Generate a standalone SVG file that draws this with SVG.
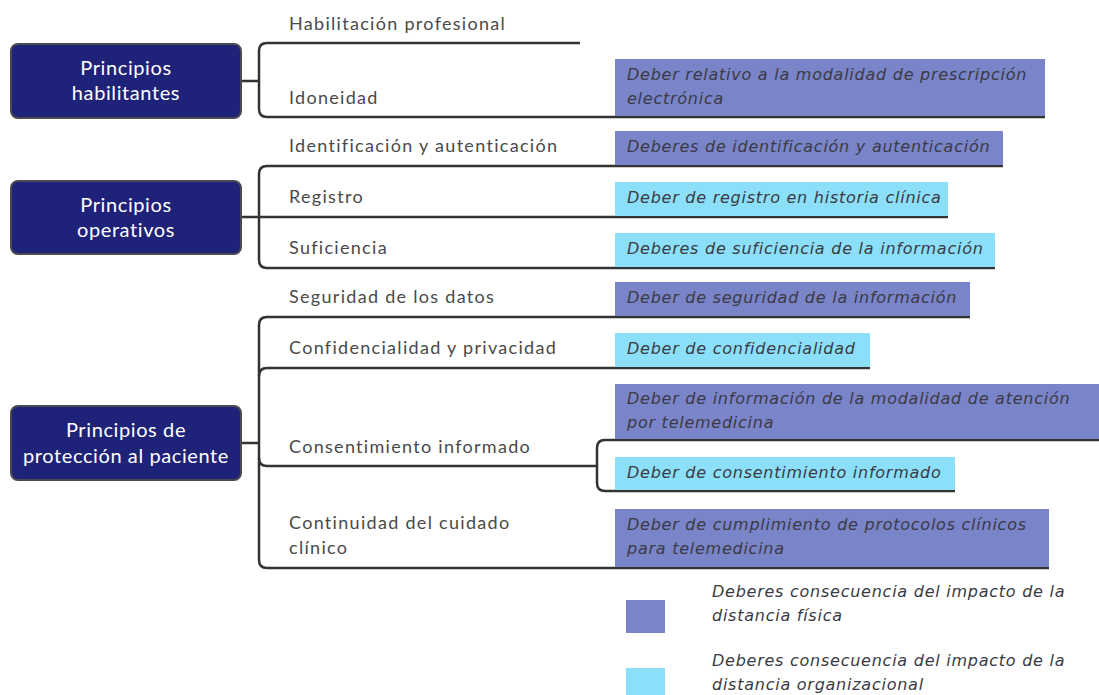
<svg xmlns="http://www.w3.org/2000/svg" width="1099" height="695" viewBox="0 0 1099 695">
  <style>
    .node rect { fill: #1e2278; stroke: #4a4a52; stroke-width: 2; }
    .node text { fill: #ffffff; font-family: Lato, "Noto Sans", sans-serif; font-size: 20px; letter-spacing: 0.6px; text-anchor: middle; }
    .label { fill: #4a4a4a; font-family: Lato, "Noto Sans", sans-serif; font-size: 18px; letter-spacing: 1.3px; }
    .duty { fill: #3a3a44; font-family: "DejaVu Sans", "Noto Sans", sans-serif; font-size: 16px; font-style: italic; letter-spacing: 0.75px; }
    .phys { fill: #7a84c9; }
    .org { fill: #8cdff8; }
    .wire { fill: none; stroke: #333333; stroke-width: 2.5; }
  </style>

  <!-- connectors -->
  <g id="connectors" class="wire">
    <!-- habilitantes -->
    <path d="M241 81 H259"/>
    <path d="M580 43 H267 Q259 43 259 51 V109 Q259 117 267 117 H1045"/>
    <!-- operativos -->
    <path d="M241 217 H259"/>
    <path d="M1003 166 H267 Q259 166 259 174 V260 Q259 268 267 268 H995"/>
    <path d="M259 217 H948"/>
    <!-- protección al paciente -->
    <path d="M241 443 H259"/>
    <path d="M970 317 H267 Q259 317 259 325 V560 Q259 568 267 568 H1049"/>
    <path d="M259 376 Q259 368 267 368 H870"/>
    <path d="M259 458 Q259 466 267 466 H597"/>
    <path d="M1099 440 H605 Q597 440 597 448 V483 Q597 491 605 491 H955"/>
  </g>

  <!-- root nodes -->
  <g id="node-habilitantes" class="node">
    <rect x="11" y="44" width="230" height="74" rx="7"/>
    <text x="126" y="75">Principios</text>
    <text x="126" y="100">habilitantes</text>
  </g>
  <g id="node-operativos" class="node">
    <rect x="11" y="181" width="230" height="73" rx="7"/>
    <text x="126" y="212">Principios</text>
    <text x="126" y="237">operativos</text>
  </g>
  <g id="node-proteccion" class="node">
    <rect x="11" y="406" width="230" height="74" rx="7"/>
    <text x="126" y="437">Principios de</text>
    <text x="126" y="463">protección al paciente</text>
  </g>

  <!-- principle labels -->
  <g id="principles">
    <text class="label" x="289" y="30">Habilitación profesional</text>
    <text class="label" x="289" y="104">Idoneidad</text>
    <text class="label" x="289" y="152">Identificación y autenticación</text>
    <text class="label" x="289" y="203">Registro</text>
    <text class="label" x="289" y="254">Suficiencia</text>
    <text class="label" x="289" y="303">Seguridad de los datos</text>
    <text class="label" x="289" y="354">Confidencialidad y privacidad</text>
    <text class="label" x="289" y="453">Consentimiento informado</text>
    <text class="label" x="289" y="529">Continuidad del cuidado</text>
    <text class="label" x="289" y="554">clínico</text>
  </g>

  <!-- duty boxes -->
  <g id="duty-prescripcion">
    <rect class="phys" x="615" y="59" width="430" height="57"/>
    <text class="duty" x="627" y="80">Deber relativo a la modalidad de prescripción</text>
    <text class="duty" x="627" y="104">electrónica</text>
  </g>
  <g id="duty-identificacion">
    <rect class="phys" x="615" y="131" width="388" height="34"/>
    <text class="duty" x="627" y="152">Deberes de identificación y autenticación</text>
  </g>
  <g id="duty-registro">
    <rect class="org" x="615" y="182" width="333" height="34"/>
    <text class="duty" x="627" y="203">Deber de registro en historia clínica</text>
  </g>
  <g id="duty-suficiencia">
    <rect class="org" x="615" y="233" width="380" height="34"/>
    <text class="duty" x="627" y="254">Deberes de suficiencia de la información</text>
  </g>
  <g id="duty-seguridad">
    <rect class="phys" x="615" y="282" width="355" height="34"/>
    <text class="duty" x="627" y="303">Deber de seguridad de la información</text>
  </g>
  <g id="duty-confidencialidad">
    <rect class="org" x="615" y="333" width="255" height="34"/>
    <text class="duty" x="627" y="354">Deber de confidencialidad</text>
  </g>
  <g id="duty-informacion">
    <rect class="phys" x="615" y="384" width="484" height="55"/>
    <text class="duty" x="627" y="404">Deber de información de la modalidad de atención</text>
    <text class="duty" x="627" y="428">por telemedicina</text>
  </g>
  <g id="duty-consentimiento">
    <rect class="org" x="615" y="457" width="340" height="33"/>
    <text class="duty" x="627" y="478">Deber de consentimiento informado</text>
  </g>
  <g id="duty-protocolos">
    <rect class="phys" x="615" y="509" width="434" height="58"/>
    <text class="duty" x="627" y="530">Deber de cumplimiento de protocolos clínicos</text>
    <text class="duty" x="627" y="554">para telemedicina</text>
  </g>

  <!-- legend -->
  <g id="legend">
    <rect class="phys" x="626" y="600" width="39" height="33"/>
    <text class="duty" x="712" y="597">Deberes consecuencia del impacto de la</text>
    <text class="duty" x="712" y="621">distancia física</text>
    <rect class="org" x="626" y="668" width="39" height="27"/>
    <text class="duty" x="712" y="666">Deberes consecuencia del impacto de la</text>
    <text class="duty" x="712" y="690">distancia organizacional</text>
  </g>
</svg>
